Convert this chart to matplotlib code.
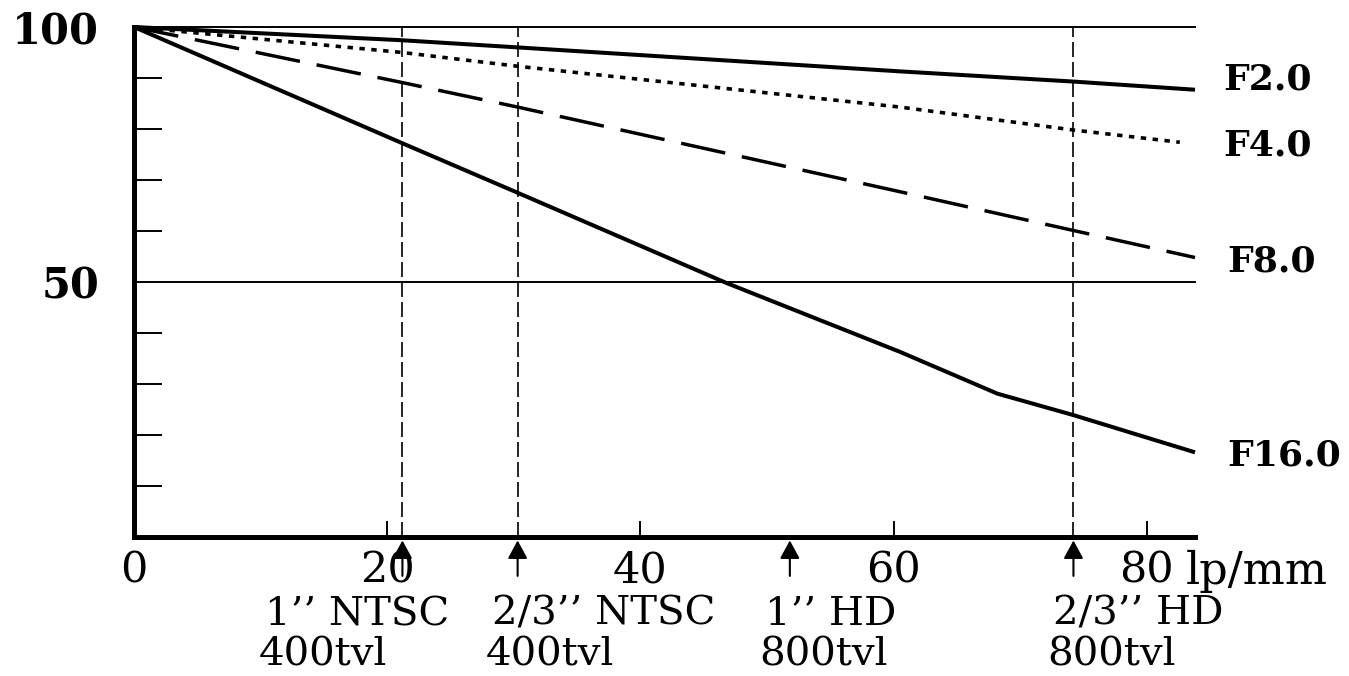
import matplotlib
matplotlib.use("Agg")
import matplotlib.pyplot as plt

# Modulation transfer (%) versus spatial frequency (lp/mm) for four apertures
f2_lpmm = [0, 21.2, 30.3, 60.5, 74.2, 83.8]
f2_mtf = [100, 97.4, 96.0, 91.3, 89.3, 87.7]

f4_lpmm = [0, 21.2, 30.3, 60.5, 74.2, 82.6]
f4_mtf = [100, 95.0, 92.3, 84.3, 79.8, 77.4]

f8_lpmm = [0, 21.2, 30.3, 60.5, 74.2, 83.8]
f8_mtf = [100, 89.1, 84.3, 67.7, 60.1, 54.8]

f16_lpmm = [0, 21.2, 30.3, 46.8, 60.5, 68.2, 74.2, 83.8]
f16_mtf = [100, 77.2, 67.5, 49.8, 36.3, 28.1, 23.9, 16.6]

aperture_names = ["F2.0", "F4.0", "F8.0", "F16.0"]

# Camera formats and their limiting resolution in lp/mm
format_lpmm = [21.2, 30.3, 51.8, 74.2]
format_names = ["1\u2019\u2019 NTSC", "2/3\u2019\u2019 NTSC", "1\u2019\u2019 HD", "2/3\u2019\u2019 HD"]
format_tvl = ["400tvl", "400tvl", "800tvl", "800tvl"]
format_guide = [True, True, False, True]

x_ticks = [0, 20, 40, 60, 80]
x_tick_labels = ["0", "20", "40", "60", "80"]
y_minor = [10, 20, 30, 40, 60, 70, 80, 90]
y_major = [50, 100]

W, H = 1349, 676
fig = plt.figure(figsize=(W / 100, H / 100), dpi=100)
ax = fig.add_axes([134 / W, 1 - 537 / H, (1195 - 134) / W, (537 - 27) / H])
ax.set_xlim(0, 83.8)
ax.set_ylim(0, 100)

serif = "DejaVu Serif"

for side in ("top", "right"):
    ax.spines[side].set_visible(False)
for side in ("left", "bottom"):
    ax.spines[side].set_linewidth(3.6)
    ax.spines[side].set_capstyle("projecting")

# reference levels
for yv in y_major:
    ax.plot([0, 83.8], [yv, yv], color="black", lw=1.4, clip_on=False)

# vertical guides at format limits
for xv, show in zip(format_lpmm, format_guide):
    if show:
        ax.plot([xv, xv], [0, 100], color="black", lw=1.2,
                linestyle=(0, (9, 3)), clip_on=False)

# MTF curves
ax.plot(f2_lpmm, f2_mtf, color="black", lw=2.9, solid_capstyle="butt", clip_on=False)
ax.plot(f4_lpmm, f4_mtf, color="black", lw=2.6, linestyle=(0, (1.5, 1.8)), clip_on=False)
ax.plot(f8_lpmm, f8_mtf, color="black", lw=2.5, linestyle=(0, (13, 4.9)), clip_on=False)
ax.plot(f16_lpmm, f16_mtf, color="black", lw=2.9, solid_capstyle="butt", clip_on=False)

# ticks
ax.set_xticks(x_ticks)
ax.set_xticklabels(x_tick_labels, fontfamily=serif, fontsize=31)
ax.tick_params(axis="x", direction="in", length=11.5, width=1.4, pad=9)
ax.set_yticks(y_minor)
ax.set_yticklabels([])
ax.tick_params(axis="y", direction="in", length=20, width=1.4)
ax.set_yticks(y_major, minor=True)
ax.set_yticklabels([str(v) for v in y_major], minor=True,
                   fontfamily=serif, fontsize=30, fontweight="bold")
ax.tick_params(axis="y", which="minor", length=0, pad=25)

# unit after the last x tick label
ax.annotate("lp/mm", xy=(80, 0), xycoords=("data", "axes fraction"),
            xytext=(28, -9.5), textcoords="offset points", ha="left", va="top",
            fontfamily=serif, fontsize=32)


def fig_text(px, py, s, **kw):
    fig.text(px / W, 1 - py / H, s, **kw)


# curve names at the right end
name_pos = [(1223, 80), (1223, 146), (1227, 261), (1227, 455)]
for name, (px, py) in zip(aperture_names, name_pos):
    fig_text(px, py, name, ha="left", va="center", fontfamily=serif,
             fontsize=26, fontweight="bold")

# arrows marking each camera format
for xv in format_lpmm:
    ax.annotate("", xy=(xv, 0), xycoords=("data", "axes fraction"),
                xytext=(0, -28), textcoords="offset points",
                arrowprops=dict(arrowstyle="-|>,head_length=11,head_width=6",
                                mutation_scale=1, color="black", lw=1.5,
                                shrinkA=0, shrinkB=2.5),
                annotation_clip=False)

# format captions
caption_left = [265, 492, 765, 1053]
for name, tvl, px in zip(format_names, format_tvl, caption_left):
    fig_text(px, 625, name, ha="left", va="baseline", fontfamily=serif, fontsize=29)
    fig_text(px - 6, 666, tvl, ha="left", va="baseline", fontfamily=serif, fontsize=29)

fig.savefig("out.png", dpi=100, facecolor="white")
